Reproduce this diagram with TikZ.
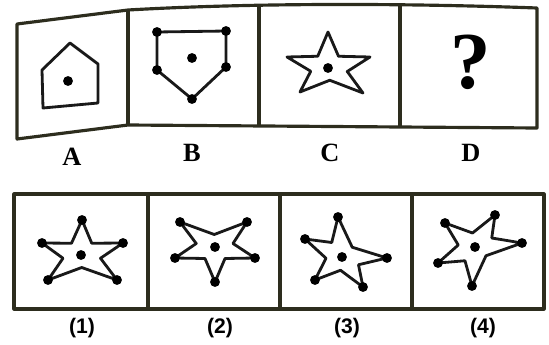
\documentclass[tikz,border=0pt]{standalone}
\usepackage{fontspec}
\setmainfont{Liberation Serif}
\setsansfont{Liberation Sans}
\usetikzlibrary{calc}

\definecolor{framecol}{RGB}{45,45,30}

\tikzset{
    frameline/.style={line width=1.8pt, draw=framecol, line join=round},
    figline/.style={line width=1.6pt, draw=black!90, line join=round},
    dotfill/.style={fill=black},
}

% star through five tips (#2..#6, clockwise) around centre #1
\newcommand{\starpath}[6]{%
    \draw[figline] (#2) -- ($0.5*(#1)+0.25*(#2)+0.25*(#3)$)
        -- (#3) -- ($0.5*(#1)+0.25*(#3)+0.25*(#4)$)
        -- (#4) -- ($0.5*(#1)+0.25*(#4)+0.25*(#5)$)
        -- (#5) -- ($0.5*(#1)+0.25*(#5)+0.25*(#6)$)
        -- (#6) -- ($0.5*(#1)+0.25*(#6)+0.25*(#2)$) -- cycle;
}
\newcommand{\blob}[1]{\fill[dotfill] (#1) circle[radius=2.8pt];}

\begin{document}
\begin{tikzpicture}[x=0.02cm,y=-0.02cm]
    \useasboundingbox (0,0) rectangle (549,345);

    % Question strip
    \draw[frameline] (17,24) -- (128,10) .. controls (250,3) and (400,3) .. (537,8)
        -- (537,128) -- (128,125) -- (17,139) -- cycle;
    \draw[frameline] (128,10) -- (128,125);
    \draw[frameline] (259,5) -- (259,126);
    \draw[frameline] (400,5) -- (400,127);

    % A: house
    \coordinate (a0) at (68,81);
    \draw[figline] (70,43) -- (98,64) -- (98,103) -- (43,108) -- (42,70) -- cycle;
    \blob{a0}

    % B: pentagon with corner dots
    \coordinate (b0) at (192,58);
    \coordinate (b1) at (157,32);
    \coordinate (b2) at (226,31);
    \coordinate (b3) at (226,67);
    \coordinate (b4) at (192,99);
    \coordinate (b5) at (157,70);
    \draw[figline] (b1) -- (b2) -- (b3) -- (b4) -- (b5) -- cycle;
    \foreach \p in {b0,b1,b2,b3,b4,b5} {\blob{\p}}

    % C: star
    \coordinate (c0) at (328,68);
    \coordinate (c1) at (328,32);
    \coordinate (c2) at (370,57);
    \coordinate (c3) at (363,93);
    \coordinate (c4) at (300,92);
    \coordinate (c5) at (287,57);
    \starpath{c0}{c1}{c2}{c3}{c4}{c5}
    \blob{c0}

    % D: unknown
    \node (qmark) at (471,62) {\fontsize{46}{50}\selectfont\bfseries ?};

    % strip labels
    \node (labA) at (72,157) {\fontsize{15}{18}\selectfont\bfseries A};
    \node (labB) at (192,153) {\fontsize{15}{18}\selectfont\bfseries B};
    \node (labC) at (330,153) {\fontsize{15}{18}\selectfont\bfseries C};
    \node (labD) at (471,153) {\fontsize{15}{18}\selectfont\bfseries D};

    % Answer strip
    \draw[frameline] (14,194) rectangle (544,309);
    \draw[frameline] (148,194) -- (148,309);
    \draw[frameline] (280,194) -- (280,309);
    \draw[frameline] (412,194) -- (412,309);

    % (1)
    \coordinate (p0) at (81,255);
    \coordinate (p1) at (82,220);
    \coordinate (p2) at (123,243);
    \coordinate (p3) at (117,280);
    \coordinate (p4) at (48,280);
    \coordinate (p5) at (42,243);
    \starpath{p0}{p1}{p2}{p3}{p4}{p5}
    \foreach \p in {p0,p1,p2,p3,p4,p5} {\blob{\p}}

    % (2)
    \coordinate (q0) at (215,247);
    \coordinate (q1) at (180,222);
    \coordinate (q2) at (247,222);
    \coordinate (q3) at (255,258);
    \coordinate (q4) at (215,282);
    \coordinate (q5) at (175,258);
    \starpath{q0}{q1}{q2}{q3}{q4}{q5}
    \foreach \p in {q0,q1,q2,q3,q4,q5} {\blob{\p}}

    % (3)
    \coordinate (r0) at (342,257);
    \coordinate (r1) at (338,217);
    \coordinate (r2) at (387,258);
    \coordinate (r3) at (363,287);
    \coordinate (r4) at (315,280);
    \coordinate (r5) at (305,239);
    \starpath{r0}{r1}{r2}{r3}{r4}{r5}
    \foreach \p in {r0,r1,r2,r3,r4,r5} {\blob{\p}}

    % (4)
    \coordinate (s0) at (475,247);
    \coordinate (s1) at (495,215);
    \coordinate (s2) at (522,243);
    \coordinate (s3) at (472,286);
    \coordinate (s4) at (438,263);
    \coordinate (s5) at (445,223);
    \starpath{s0}{s1}{s2}{s3}{s4}{s5}
    \foreach \p in {s0,s1,s2,s3,s4,s5} {\blob{\p}}

    % option labels
    \node (opt1) at (82,328) {\sffamily\bfseries\fontsize{12}{14}\selectfont (1)};
    \node (opt2) at (220,328) {\sffamily\bfseries\fontsize{12}{14}\selectfont (2)};
    \node (opt3) at (347,328) {\sffamily\bfseries\fontsize{12}{14}\selectfont (3)};
    \node (opt4) at (483,328) {\sffamily\bfseries\fontsize{12}{14}\selectfont (4)};
\end{tikzpicture}
\end{document}
